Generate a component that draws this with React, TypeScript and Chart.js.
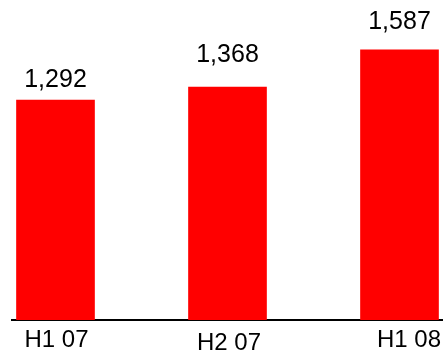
import React, { useEffect, useRef } from "react";
import { Chart, registerables } from "chart.js";

Chart.register(...registerables);

// Half-year periods and their totals
const categories: string[] = ["H1 07", "H2 07", "H1 08"];
const values: number[] = [1292, 1368, 1587];

// Layout constants for the hand-placed text
const valueLabelGap: number[] = [13, 25, 21]; // px between bar top and value baseline
const categoryDx: number[] = [1, 1.5, 9.5]; // px shift of each period label
const categoryBaseline: number[] = [347, 350, 347]; // px baseline of each period label

const FONT = "'Liberation Sans', Arial, Helvetica, sans-serif";

const labelsPlugin = {
  id: "barLabels",
  afterDatasetsDraw(chart: any) {
    const { ctx } = chart;
    const xScale = chart.scales.x;
    const yScale = chart.scales.y;
    ctx.save();
    ctx.fillStyle = "#000000";
    ctx.textAlign = "center";
    ctx.textBaseline = "alphabetic";

    ctx.font = `25px ${FONT}`;
    values.forEach((v, i) => {
      const x = xScale.getPixelForValue(i);
      const y = yScale.getPixelForValue(v) - valueLabelGap[i];
      ctx.fillText(v.toLocaleString("en-US"), x, y);
    });

    ctx.font = `24px ${FONT}`;
    categories.forEach((c, i) => {
      const x = xScale.getPixelForValue(i) + categoryDx[i];
      ctx.fillText(c, x, categoryBaseline[i]);
    });
    ctx.restore();
  },
};

export default function App() {
  const canvasRef = useRef<HTMLCanvasElement | null>(null);

  useEffect(() => {
    if (!canvasRef.current) return;
    const chart = new Chart(canvasRef.current, {
      type: "bar",
      data: {
        datasets: [
          {
            data: values.map((v, i) => ({ x: i, y: v })),
            backgroundColor: "#FF0000",
            borderWidth: 0,
            barThickness: 78,
          },
        ],
      },
      options: {
        responsive: false,
        animation: false,
        devicePixelRatio: 1,
        layout: { padding: { left: 12, right: 0, top: 0, bottom: 33 } },
        plugins: {
          legend: { display: false },
          tooltip: { enabled: false },
        },
        scales: {
          x: {
            type: "linear",
            offset: false,
            min: -0.2529,
            max: 2.2529,
            grid: { display: false, drawTicks: false, offset: false },
            ticks: { display: false },
            border: { display: true, color: "#000000", width: 2 },
          },
          y: {
            display: false,
            min: 0,
            max: 1880,
          },
        },
      },
      plugins: [labelsPlugin],
    });
    return () => chart.destroy();
  }, []);

  return (
    <div
      style={{
        position: "fixed",
        left: 0,
        top: 0,
        width: 443,
        height: 353,
        background: "#ffffff",
      }}
    >
      <canvas ref={canvasRef} width={443} height={353} />
    </div>
  );
}
